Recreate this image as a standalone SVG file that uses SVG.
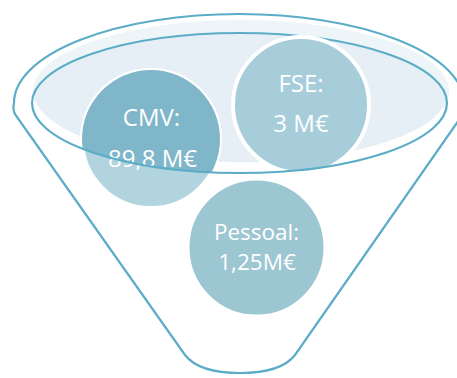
<svg xmlns="http://www.w3.org/2000/svg" width="457" height="378" viewBox="0 0 457 378">
  <style>
    .line { fill: none; stroke: #5badc7; stroke-width: 2.2; }
    .ring { stroke: #ffffff; stroke-width: 4; }
    .lbl { font-family: "Open Sans", "Noto Sans", sans-serif; font-size: 24px; fill: #ffffff; text-anchor: middle; }
    .sm { font-size: 22.5px; }
  </style>
  <defs>
    <clipPath id="fillClip">
      <ellipse cx="241" cy="91" rx="208" ry="71"/>
    </clipPath>
    <clipPath id="innerClip">
      <ellipse cx="239.5" cy="103" rx="207.5" ry="70"/>
    </clipPath>
  </defs>
  <rect width="457" height="378" fill="#ffffff"/>

  <g id="funnel-back">
    <path class="line" d="M 17,117 Q 12,111 14,103 A 225 89 0 0 1 464,103 Q 465,111 461,117 L 295,355 C 285,368 265,373 240,373 C 215,373 195,368 185,355 Z"/>
    <ellipse cx="241" cy="91" rx="208" ry="71" fill="#eef5f8"/>
    <ellipse cx="239.5" cy="103" rx="207.5" ry="70" fill="#e5eff5" clip-path="url(#fillClip)"/>
    <path class="line" d="M 32,103 A 207.5 70 0 0 1 447,103"/>
  </g>

  <g id="node-cmv">
    <circle class="ring" cx="151" cy="139" r="69" fill="#b2d4de"/>
    <circle cx="151" cy="139" r="69" fill="#7fb6ca" clip-path="url(#innerClip)"/>
    <text class="lbl" x="151.5" y="126">CMV:</text>
    <text class="lbl" x="152.5" y="167">89,8 M€</text>
  </g>

  <g id="node-fse">
    <circle class="ring" cx="301" cy="105" r="68" fill="#a7cddb"/>
    <text class="lbl" x="301" y="92">FSE:</text>
    <text class="lbl" x="301" y="132">3 M€</text>
  </g>

  <g id="node-pessoal">
    <circle class="ring" cx="256.5" cy="247.5" r="69" fill="#9dc6d3"/>
    <text class="lbl sm" x="256.5" y="240">Pessoal:</text>
    <text class="lbl sm" x="257" y="270">1,25M€</text>
  </g>

  <g id="funnel-front">
    <path class="line" d="M 447,103 A 207.5 70 0 0 1 32,103"/>
  </g>
</svg>
